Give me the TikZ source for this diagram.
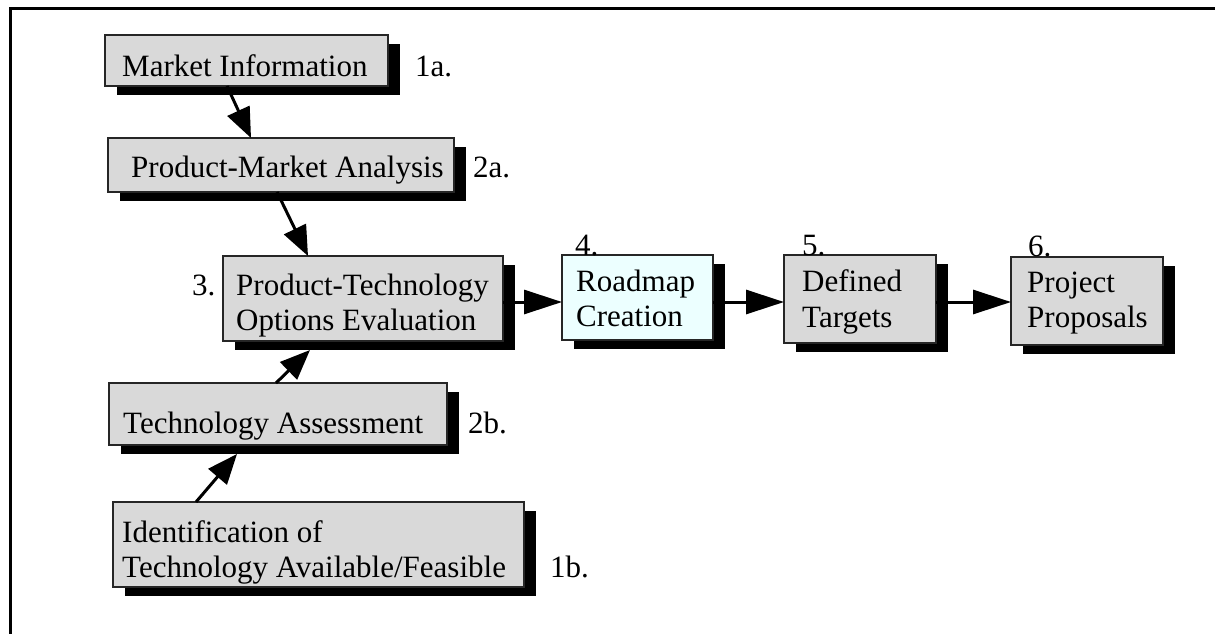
\documentclass[tikz,border=0pt]{standalone}
\usepackage{fontspec}
\setmainfont{Liberation Serif}
\usetikzlibrary{arrows.meta}
\definecolor{boxgray}{RGB}{217,217,217}
\definecolor{boxcyan}{RGB}{236,255,255}
\newcommand\mkbox[6]{%
  \node[shbox, minimum width=#4pt, minimum height=#5pt] (#1s) at (#2+12,#3+9) {};
  \node[bbox, fill=#6, minimum width=#4pt, minimum height=#5pt] (#1) at (#2,#3) {};
}
\begin{document}
\begin{tikzpicture}[x=1pt,y=-1pt,
  bbox/.style={draw=black!85, line width=2.5pt, inner sep=0pt, outer sep=0pt},
  shbox/.style={fill=black, draw=none, inner sep=0pt, outer sep=0pt},
  txt/.style={font=\fontsize{31}{35}\selectfont, anchor=base west, inner sep=0pt},
  arr/.style={line width=3pt, -{Triangle[length=30pt,width=24pt]}},
  harr/.style={line width=3pt, -{Triangle[length=38pt,width=24pt]}}]
\useasboundingbox (0,0) rectangle (1215,633);
% frame
\draw[line width=3pt] (10,640) -- (10,8) -- (1220,8);
% boxes
\mkbox{b1}{246.5}{60.5}{283}{51}{boxgray}
\mkbox{b2}{281}{165}{346}{54}{boxgray}
\mkbox{b3}{363}{298.5}{280}{85}{boxgray}
\mkbox{b4}{637.5}{297.5}{151}{85}{boxcyan}
\mkbox{b5}{860}{299}{152}{88}{boxgray}
\mkbox{b6}{1087}{301}{152}{88}{boxgray}
\mkbox{b7}{278}{414}{338}{62}{boxgray}
\mkbox{b8}{318.5}{544.5}{411}{85}{boxgray}
% texts
\node[txt] (t1) at (122,76) {Market Information};
\node[txt] (l1) at (415,76) {1a.};
\node[txt] (t2) at (131,177) {Product-Market Analysis};
\node[txt] (l2) at (473,177) {2a.};
\node[txt] (t3a) at (236,295) {Product-Technology};
\node[txt] (t3b) at (236,330) {Options Evaluation};
\node[txt] (l3) at (192,295) {3.};
\node[txt] (t4a) at (576,291) {Roadmap};
\node[txt] (t4b) at (576,326) {Creation};
\node[txt] (l4) at (575,255) {4.};
\node[txt] (t5a) at (802,291) {Defined};
\node[txt] (t5b) at (802,327) {Targets};
\node[txt] (l5) at (802,255) {5.};
\node[txt] (t6a) at (1027,292) {Project};
\node[txt] (t6b) at (1027,327) {Proposals};
\node[txt] (l6) at (1028,256) {6.};
\node[txt] (t7) at (123,433) {Technology Assessment};
\node[txt] (l7) at (468,433) {2b.};
\node[txt] (t8a) at (122,542) {Identification of};
\node[txt] (t8b) at (122,577) {Technology Available/Feasible};
\node[txt] (l8) at (550,577) {1b.};
% connectors
\draw[arr] (b1.south -| 227,0) -- (b2.north -| 251,0);
\draw[arr] (b2.south -| 277,0) -- (b3.north -| 308,0);
\draw[arr] (b7.north -| 276,0) -- (b3s.south -| 310,0);
\draw[arr] (b8.north -| 196,0) -- (b7s.south -| 237,0);
\draw[harr] (b3.east |- 0,302) -- (b4.west |- 0,302);
\draw[harr] (b4.east |- 0,302) -- (b5.west |- 0,302);
\draw[harr] (b5.east |- 0,302) -- (b6.west |- 0,302);
\end{tikzpicture}
\end{document}
